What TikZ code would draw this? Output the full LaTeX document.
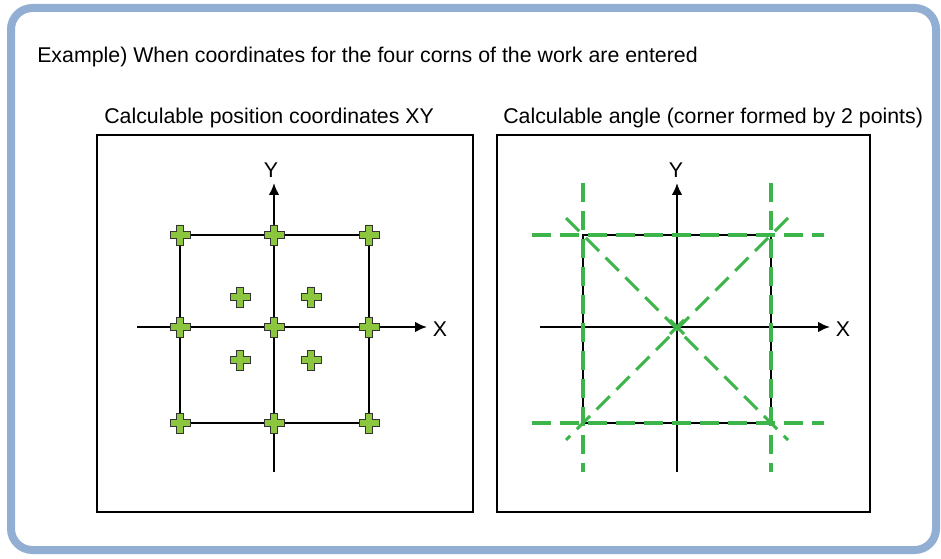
\documentclass[tikz,border=0pt]{standalone}
\usepackage{fontspec}
\setmainfont{Liberation Sans}
\usetikzlibrary{arrows.meta}
\definecolor{frameblue}{HTML}{93AED3}
\definecolor{linegreen}{HTML}{3DB54A}
\definecolor{crossgreen}{HTML}{8CC63F}
\tikzset{
  axis/.style={line width=1.6pt, -{Latex[length=9pt,width=8pt]}},
  grid/.style={line width=1.5pt},
  panel/.style={line width=1.4pt},
  guide/.style={line width=2.3pt, linegreen, dash pattern=on 14pt off 7pt},
  lbl/.style={inner sep=0pt, font=\fontsize{16pt}{19pt}\selectfont},
  plusmark/.pic={
    \filldraw[fill=crossgreen, draw=black!80, line width=0.7pt]
      (-10,-3.4) -- (-3.4,-3.4) -- (-3.4,-10) -- (3.4,-10) -- (3.4,-3.4)
      -- (10,-3.4) -- (10,3.4) -- (3.4,3.4) -- (3.4,10) -- (-3.4,10)
      -- (-3.4,3.4) -- (-10,3.4) -- cycle;
  }
}
\begin{document}
\begin{tikzpicture}[x=0.75pt, y=-0.75pt]
\useasboundingbox (0,0) rectangle (941,559);
% frame
\draw[frameblue, line width=6pt, rounded corners=16pt] (11,8) rectangle (936,550);
\node[lbl, anchor=west] (title) at (37,57) {Example) When coordinates for the four corns of the work are entered};

% left panel
\draw[panel] (97,135) rectangle (473,512);
\node[lbl, anchor=west] (lefttitle) at (104,118) {Calculable position coordinates XY};
\coordinate (lxs) at (137,327);
\coordinate (lxe) at (427,327);
\coordinate (lys) at (274,472);
\coordinate (lye) at (274,183);
\draw[grid] (180,235) rectangle (369,423);
\draw[axis] (lxs) -- (lxe);
\draw[axis] (lys) -- (lye);
\node[lbl] (lx) at (440,329) {X};
\node[lbl] (ly) at (271,170) {Y};
\foreach \px in {180,274,369}
  \foreach \py in {235,327,423}
    \pic at (\px,\py) {plusmark};
\foreach \px/\py in {240/297, 311/297, 240/360, 311/360}
  \pic at (\px,\py) {plusmark};

% right panel
\draw[panel] (497,135) rectangle (870,512);
\node[lbl, anchor=west] (righttitle) at (503,118) {Calculable angle (corner formed by 2 points)};
\coordinate (rxs) at (540,327);
\coordinate (rxe) at (830,327);
\coordinate (rys) at (677,472);
\coordinate (rye) at (677,183);
\draw[grid] (583,235) rectangle (771,423);
\draw[axis] (rxs) -- (rxe);
\draw[axis] (rys) -- (rye);
\node[lbl] (rx) at (843,329) {X};
\node[lbl] (ry) at (676,170) {Y};
% green guide lines
\draw[guide] (583,183) -- (583,472);
\draw[guide] (771,183) -- (771,472);
\draw[guide] (532,235) -- (824,235);
\draw[guide] (532,423) -- (824,423);
\draw[guide] (566,218) -- (788,440);
\draw[guide] (788,218) -- (566,440);
\draw[linegreen, line width=2.3pt] (670,320) -- (684,334) (684,320) -- (670,334);
\end{tikzpicture}
\end{document}
